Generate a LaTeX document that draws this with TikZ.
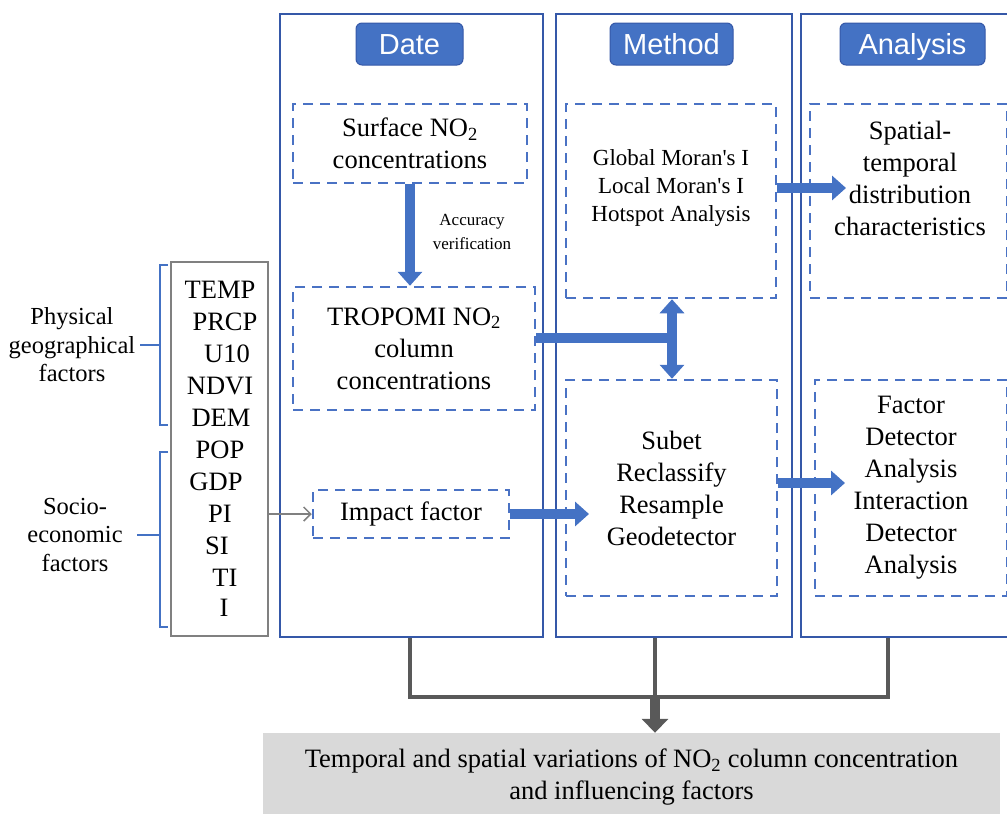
\documentclass[tikz,border=0pt]{standalone}
\usepackage{fontspec}
\setmainfont{Liberation Serif}
\newfontfamily\hdrfont{Liberation Sans}
\usetikzlibrary{arrows.meta}
\definecolor{colb}{HTML}{3558A8}
\definecolor{dashb}{HTML}{4A72C4}
\definecolor{fillb}{HTML}{4472C4}
\definecolor{gline}{HTML}{595959}
\definecolor{gbox}{HTML}{D9D9D9}
\definecolor{lgray}{HTML}{808080}
\tikzset{
  colbox/.style={draw=colb, line width=2.5pt, minimum width=#1, minimum height=623pt, inner sep=0pt},
  hdr/.style={draw=colb, fill=fillb, rounded corners=6pt, line width=1pt, minimum height=42pt, minimum width=#1, inner sep=0pt, text=white, text height=23pt, text depth=2pt, font=\hdrfont\fontsize{29}{32}\selectfont},
  dbox/.style={draw=dashb, line width=2.5pt, dash pattern=on 10pt off 7pt, inner sep=0pt, align=center},
  txt/.style={font=\fontsize{26.5}{32}\selectfont, align=center},
  stxt/.style={font=\fontsize{23}{28}\selectfont, align=center},
  lbl/.style={font=\fontsize{24.5}{28.5}\selectfont, align=center},
  bigarrow/.style={draw=fillb, line width=10pt, -{Triangle[length=14pt,width=24pt]}},
  dblarrow/.style={draw=fillb, line width=10pt, {Triangle[length=14pt,width=24pt]}-{Triangle[length=14pt,width=24pt]}},
  barline/.style={draw=fillb, line width=10pt},
  brace/.style={draw=fillb, line width=2.5pt},
  glinestyle/.style={draw=gline, line width=4pt},
  garrow/.style={draw=gline, line width=10pt, -{Triangle[length=14pt,width=26pt]}},
}
\begin{document}
\begin{tikzpicture}[x=1pt,y=-1pt]
\useasboundingbox (0,0) rectangle (1007,814);
% columns
\node[colbox=263pt] (colD) at (411.5,325.5) {};
\node[colbox=236pt] (colM) at (674,325.5) {};
\node[colbox=211pt] (colA) at (906.5,325.5) {};
% headers
\node[hdr=107pt] (hD) at (409.5,44) {Date};
\node[hdr=123pt] (hM) at (671.5,44) {Method};
\node[hdr=145pt] (hA) at (912.5,44) {Analysis};
% dashed boxes
\node[dbox, minimum width=234pt, minimum height=79pt, txt] (surf) at (410,143.5) {Surface NO\textsubscript{2}\\concentrations};
\node[dbox, minimum width=242pt, minimum height=123pt, txt] (trop) at (414,348.5) {TROPOMI NO\textsubscript{2}\\column\\concentrations};
\node[dbox, minimum width=196pt, minimum height=48pt, txt] (impact) at (411,514) {Impact factor};
\node[dbox, minimum width=210pt, minimum height=194pt] (moran) at (671,201) {};
\node[stxt] (morantxt) at (671,188) {Global Moran\textquotesingle s I\\Local Moran\textquotesingle s I\\Hotspot Analysis};
\node[dbox, minimum width=211pt, minimum height=216pt, txt] (subet) at (671.5,488) {Subet\\Reclassify\\Resample\\Geodetector};
\node[dbox, minimum width=197pt, minimum height=194pt] (spat) at (908.5,201) {};
\node[txt] (spattxt) at (910,178) {Spatial-\\temporal\\distribution\\characteristics};
\node[dbox, minimum width=192pt, minimum height=216pt, txt] (fact) at (911,488) {Factor\\Detector\\Analysis\\Interaction\\Detector\\Analysis};
% factor list
\node[draw=lgray, line width=2.5pt, minimum width=97pt, minimum height=374pt, inner sep=0pt] (list) at (219.5,449) {};
\foreach \n/\x/\y in {TEMP/220/290, PRCP/225/322, U10/227/354, NDVI/220/386, DEM/221/418, POP/220/450, GDP/216/482, PI/220/514, SI/217/546, TI/225/578, I/224/608}
  \node[txt] (l\n) at (\x,\y) {\n};
% braces
\draw[brace] (168,265) -- (160,265) -- (160,425) -- (168,425);
\draw[brace] (160,345) -- (140,345);
\draw[brace] (168,452) -- (160,452) -- (160,627) -- (168,627);
\draw[brace] (160,535) -- (137,535);
\node[lbl] (phys) at (72,345) {Physical\\geographical\\factors};
\node[lbl] (socio) at (75,535) {Socio-\\economic\\factors};
% arrows
\draw[bigarrow] (surf.south) -- (surf.south |- trop.north);
\node[font=\fontsize{17}{24}\selectfont, align=center] (acc) at (472,232) {Accuracy\\verification};
\coordinate (j) at (672,338);
\draw[barline] (trop.east |- j) -- ([xshift=3pt]j);
\draw[dblarrow] (moran.south -| j) -- (subet.north -| j);
\coordinate (ie) at (589,514);
\draw[bigarrow] (impact.east) -- (ie);
\coordinate (se) at (846,188);
\draw[bigarrow] (moran.east |- se) -- (se);
\coordinate (fe) at (845,483);
\draw[bigarrow] (subet.east |- fe) -- (fe);
\draw[draw=lgray, line width=1.5pt, -{Straight Barb[length=7pt,width=14pt]}] (list.east |- impact) -- (impact.west);
% bottom
\node[fill=gbox, minimum width=737pt, minimum height=82pt, inner sep=0pt] (res) at (631.5,774) {};
\node[txt] (restxt) at (631.5,777) {Temporal and spatial variations of NO\textsubscript{2} column concentration\\and influencing factors};
\coordinate (b1) at (410,697);
\coordinate (b2) at (888,697);
\coordinate (bm) at (655,697);
\draw[glinestyle] (colD.south -| b1) -- (b1) -- (b2) -- (colA.south -| b2);
\draw[glinestyle] (colM.south -| bm) -- (bm);
\draw[garrow] ([yshift=-2pt]bm) -- (res.north -| bm);
\end{tikzpicture}
\end{document}
